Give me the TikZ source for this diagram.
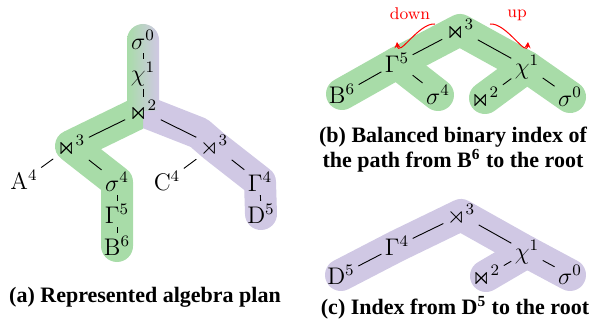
\documentclass[tikz,border=0pt]{standalone}
\usepackage{amssymb}
\usepackage{fontspec}
\newfontfamily\capfont{Liberation Serif}
\usepackage{tikz}
\usetikzlibrary{
  arrows.meta,
  backgrounds
}
\definecolor{pathgreen}{RGB}{168,220,168}
\definecolor{pathpurple}{RGB}{208,200,228}
\tikzset{
  >=Latex,
  op/.style={inner sep=1.6pt,font=\fontsize{12}{14}\selectfont},
  edge/.style={line width=0.45pt},
  band/.style={line width=16pt,line cap=round,line join=round},
  greenband/.style={band,draw=pathgreen},
  purpleband/.style={band,draw=pathpurple},
  turn/.style={-{Stealth[length=3pt,width=3pt]},red,line width=0.5pt},
  turnlabel/.style={red,inner sep=1pt,font=\fontsize{8.5}{10}\selectfont},
  caption/.style={align=center,inner sep=0pt,font=\capfont\bfseries\fontsize{11}{12.5}\selectfont}
}

\begin{document}
\begin{tikzpicture}[x=0.5pt,y=-0.5pt]
    \useasboundingbox (0,0) rectangle (604,331);

    % (a) plan
    \node[op] (s0) at (143,40) {$\sigma^0$};
    \node[op] (c1) at (143,74) {$\chi^1$};
    \node[op] (j2) at (143,111) {$\Join^2$};
    \node[op] (j3) at (71,146) {$\Join^3$};
    \node[op] (a4) at (24,180) {$\mathrm{A}^4$};
    \node[op] (s4) at (117,182) {$\sigma^4$};
    \node[op] (g5) at (117,214) {$\Gamma^5$};
    \node[op] (b6) at (117,246) {$\mathrm{B}^6$};
    \node[op] (r3) at (214,146) {$\rtimes^3$};
    \node[op] (c4) at (167,181) {$\mathrm{C}^4$};
    \node[op] (g4) at (260,182) {$\Gamma^4$};
    \node[op] (d5) at (261,214) {$\mathrm{D}^5$};
    \coordinate (bend) at (199,133);

    \draw[edge] (s0) -- (c1);
    \draw[edge] (c1) -- (j2);
    \draw[edge] (j2) -- (j3);
    \draw[edge] (j2) -- (r3);
    \draw[edge] (j3) -- (a4);
    \draw[edge] (j3) -- (s4);
    \draw[edge] (s4) -- (g5);
    \draw[edge] (g5) -- (b6);
    \draw[edge] (r3) -- (c4);
    \draw[edge] (r3) -- (g4);
    \draw[edge] (g4) -- (d5);

    \begin{scope}[on background layer]
      \draw[purpleband] (j2.center) -- (bend) -- (r3.center) -- (g4.center) -- (d5.center);
      \begin{scope}
        \clip (0,0) rectangle (143,331);
        \draw[greenband] (j2.center) -- (j3.center) -- (s4.center) -- (b6.center);
      \end{scope}
      \shade[left color=pathgreen,right color=pathpurple]
        (127,111) -- (127,40) arc[start angle=180,end angle=0,radius=8pt] -- (159,111) -- cycle;
    \end{scope}

    \node[caption] (capa) at (145,297) {(a) Represented algebra plan};

    % (b) index of the path from B6
    \node[op] (bj3) at (460,30) {$\Join^3$};
    \node[op] (bg5) at (397,63) {$\Gamma^5$};
    \node[op] (bc1) at (527,67) {$\chi^1$};
    \node[op] (bb6) at (342,94) {$\mathrm{B}^6$};
    \node[op] (bs4) at (438,95) {$\sigma^4$};
    \node[op] (bj2) at (485,98) {$\Join^2$};
    \node[op] (bs0) at (570,97) {$\sigma^0$};

    \draw[edge] (bb6) -- (bg5);
    \draw[edge] (bg5) -- (bj3);
    \draw[edge] (bg5) -- (bs4);
    \draw[edge] (bj3) -- (bc1);
    \draw[edge] (bc1) -- (bj2);
    \draw[edge] (bc1) -- (bs0);

    \begin{scope}[on background layer]
      \draw[greenband] (bb6.center) -- (bg5.center) -- (bj3.center) -- (bc1.center) -- (bs0.center);
      \draw[greenband] (bg5.center) -- (bs4.center);
      \draw[greenband] (bc1.center) -- (bj2.center);
    \end{scope}

    \coordinate (downfrom) at (435,24);
    \coordinate (downto) at (397,42);
    \coordinate (upfrom) at (490,24);
    \coordinate (upto) at (528,42);
    \draw[turn] (downfrom) to[out=175,in=275] (downto);
    \draw[turn] (upfrom) to[out=5,in=265] (upto);
    \node[turnlabel] (downlbl) at (410,14) {down};
    \node[turnlabel] (uplbl) at (517,15) {up};

    \node[caption] (capb) at (453,150) {(b) Balanced binary index of\\the path from B\textsuperscript{6} to the root};

    % (c) index from D5
    \node[op] (cr3) at (461,215) {$\rtimes^3$};
    \node[op] (cg4) at (397,246) {$\Gamma^4$};
    \node[op] (cc1) at (527,252) {$\chi^1$};
    \node[op] (cd5) at (341,275) {$\mathrm{D}^5$};
    \node[op] (cj2) at (486,276) {$\Join^2$};
    \node[op] (cs0) at (570,275) {$\sigma^0$};

    \draw[edge] (cd5) -- (cg4);
    \draw[edge] (cg4) -- (cr3);
    \draw[edge] (cr3) -- (cc1);
    \draw[edge] (cc1) -- (cj2);
    \draw[edge] (cc1) -- (cs0);

    \begin{scope}[on background layer]
      \draw[purpleband] (cd5.center) -- (cg4.center) -- (cr3.center) -- (cc1.center) -- (cs0.center);
      \draw[purpleband] (cc1.center) -- (cj2.center);
    \end{scope}

    \node[caption] (capc) at (455,308) {(c) Index from D\textsuperscript{5} to the root};
\end{tikzpicture}
\end{document}
